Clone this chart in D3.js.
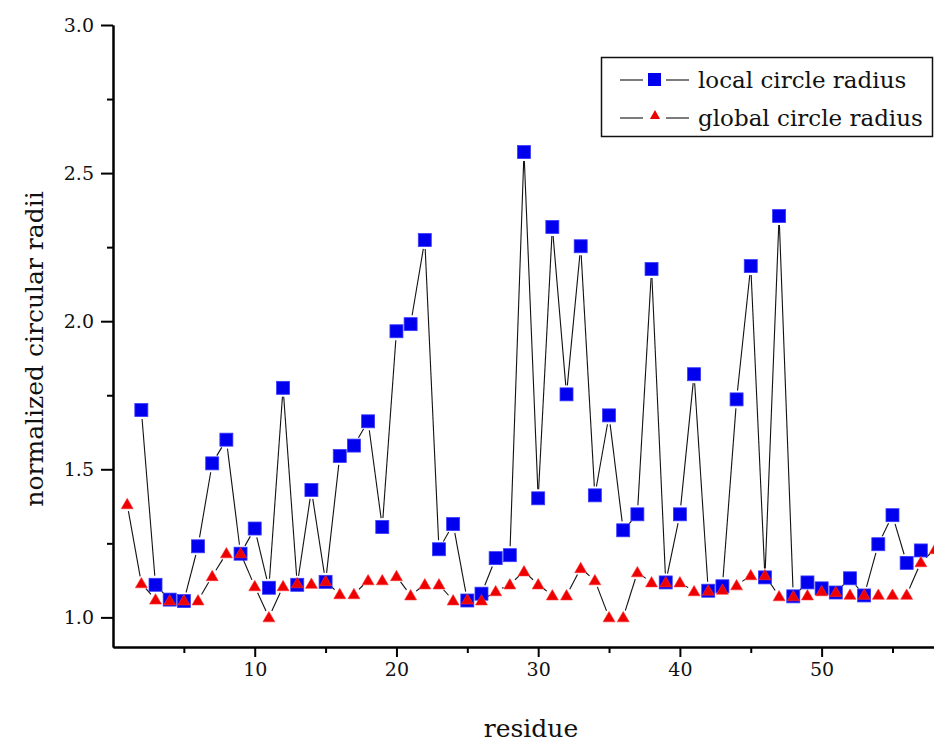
<!DOCTYPE html>
<html>
<head>
<meta charset="utf-8">
<script src="https://cdn.jsdelivr.net/npm/d3@7"></script>
<style>
  body { margin: 0; background: #fff; }
  svg { display: block; }
  text { font-family: "DejaVu Serif", "Liberation Serif", serif; fill: #111; }
</style>
</head>
<body>
<div id="chart"></div>
<script>
// residue numbers 1..58, local radius missing for residue 1 and 58
var residues = d3.range(1, 59);

var localRadius = [null, 1.70, 1.11, 1.06, 1.055, 1.24, 1.52, 1.60, 1.215, 1.30,
  1.10, 1.775, 1.11, 1.43, 1.12, 1.545, 1.58, 1.662, 1.305, 1.966,
  1.99, 2.274, 1.23, 1.315, 1.057, 1.08, 1.20, 1.21, 2.571, 1.402,
  2.318, 1.753, 2.253, 1.412, 1.682, 1.294, 1.348, 2.176, 1.118, 1.348,
  1.821, 1.09, 1.105, 1.736, 2.186, 1.135, 2.355, 1.071, 1.118, 1.098,
  1.084, 1.132, 1.074, 1.247, 1.345, 1.184, 1.226, null];

var globalRadius = [1.382, 1.115, 1.06, 1.057, 1.057, 1.057, 1.139, 1.216, 1.216, 1.105,
  1.00, 1.105, 1.115, 1.113, 1.122, 1.078, 1.078, 1.125, 1.125, 1.139,
  1.074, 1.111, 1.111, 1.057, 1.06, 1.057, 1.088, 1.111, 1.155, 1.111,
  1.074, 1.074, 1.166, 1.125, 1.00, 1.00, 1.152, 1.118, 1.118, 1.118,
  1.088, 1.09, 1.093, 1.108, 1.142, 1.142, 1.071, 1.071, 1.074, 1.088,
  1.085, 1.076, 1.076, 1.076, 1.076, 1.076, 1.186, 1.23];

var xTicks = [10, 20, 30, 40, 50];
var xMinor = [5, 15, 25, 35, 45, 55];
var yTicks = [1.0, 1.5, 2.0, 2.5, 3.0];
var yMinor = [1.25, 1.75, 2.25, 2.75];
var seriesNames = ["local circle radius", "global circle radius"];

var width = 934, height = 742;

var svg = d3.select("#chart").append("svg")
  .attr("width", width)
  .attr("height", height);

var x = d3.scaleLinear().domain([0, 58]).range([113, 935]);
var y = d3.scaleLinear().domain([0.9, 3.0]).range([647, 25]);

svg.append("defs").append("clipPath").attr("id", "plotclip")
  .append("rect").attr("x", 113).attr("y", 0).attr("width", width - 113).attr("height", 647);

// axes
svg.append("g").attr("transform", "translate(0,647)")
  .call(d3.axisBottom(x).tickValues(xTicks).tickSize(10).tickPadding(6).tickSizeOuter(0));
svg.append("g").attr("transform", "translate(0,647)")
  .call(d3.axisBottom(x).tickValues(xMinor).tickSize(6).tickFormat("").tickSizeOuter(0));
svg.append("g").attr("transform", "translate(113,0)")
  .call(d3.axisLeft(y).tickValues(yTicks).tickSize(12).tickPadding(7)
    .tickFormat(d3.format(".1f")).tickSizeOuter(0));
svg.append("g").attr("transform", "translate(113,0)")
  .call(d3.axisLeft(y).tickValues(yMinor).tickSize(6).tickFormat("").tickSizeOuter(0));

svg.selectAll(".domain").attr("stroke", "#000").attr("stroke-width", 2);
svg.selectAll(".tick line").attr("stroke", "#000").attr("stroke-width", 2);
svg.selectAll(".tick text").attr("font-size", 19)
  .style("font-family", '"DejaVu Serif", serif').attr("fill", "#111");

svg.append("text")
  .attr("x", 531).attr("y", 737)
  .attr("text-anchor", "middle").attr("font-size", 25)
  .text("residue");
svg.append("text")
  .attr("transform", "translate(43,349) rotate(-90)")
  .attr("text-anchor", "middle").attr("font-size", 25)
  .text("normalized circular radii");

var plot = svg.append("g").attr("clip-path", "url(#plotclip)");

// connecting lines leave a small gap around each marker
function drawSeries(values, gap) {
  var pts = [];
  residues.forEach(function (r, i) {
    if (values[i] != null) pts.push([x(r), y(values[i])]);
  });
  var segs = [];
  for (var i = 1; i < pts.length; i++) {
    var a = pts[i - 1], b = pts[i];
    var dx = b[0] - a[0], dy = b[1] - a[1];
    var len = Math.sqrt(dx * dx + dy * dy);
    if (len <= 2 * gap + 1) continue;
    var ux = dx / len, uy = dy / len;
    segs.push([a[0] + ux * gap, a[1] + uy * gap, b[0] - ux * gap, b[1] - uy * gap]);
  }
  plot.append("g").selectAll("line").data(segs).enter().append("line")
    .attr("x1", function (d) { return d[0]; })
    .attr("y1", function (d) { return d[1]; })
    .attr("x2", function (d) { return d[2]; })
    .attr("y2", function (d) { return d[3]; })
    .attr("stroke", "#111").attr("stroke-width", 1.1);
}

drawSeries(localRadius, 9);
drawSeries(globalRadius, 7);

var localPts = residues.map(function (r, i) { return { r: r, v: localRadius[i] }; })
  .filter(function (d) { return d.v != null; });
var globalPts = residues.map(function (r, i) { return { r: r, v: globalRadius[i] }; });

plot.append("g").selectAll("rect").data(localPts).enter().append("rect")
  .attr("x", function (d) { return x(d.r) - 6.5; })
  .attr("y", function (d) { return y(d.v) - 6.5; })
  .attr("width", 13).attr("height", 13)
  .attr("fill", "#0000ee").attr("stroke", "#3a3aff").attr("stroke-width", 0.8);

var tri = d3.symbol().type(d3.symbolTriangle).size(62);
plot.append("g").selectAll("path").data(globalPts).enter().append("path")
  .attr("d", tri)
  .attr("transform", function (d) { return "translate(" + x(d.r) + "," + (y(d.v) + 1) + ")"; })
  .attr("fill", "#ee0000").attr("stroke", "#ff3030").attr("stroke-width", 0.6);

// legend
var lg = svg.append("g");
lg.append("rect").attr("x", 601.5).attr("y", 57.5).attr("width", 331).attr("height", 79)
  .attr("fill", "#fff").attr("stroke", "#111").attr("stroke-width", 1.5);
var rows = [80, 118];
rows.forEach(function (ry, i) {
  lg.append("line").attr("x1", 620).attr("x2", 643).attr("y1", ry).attr("y2", ry)
    .attr("stroke", "#111").attr("stroke-width", 1.1);
  lg.append("line").attr("x1", 666).attr("x2", 689).attr("y1", ry).attr("y2", ry)
    .attr("stroke", "#111").attr("stroke-width", 1.1);
  lg.append("text").attr("x", 698).attr("y", ry + 8).attr("font-size", 23).text(seriesNames[i]);
});
lg.append("rect").attr("x", 648).attr("y", 73).attr("width", 13).attr("height", 13)
  .attr("fill", "#0000ee");
lg.append("path").attr("d", d3.symbol().type(d3.symbolTriangle).size(45))
  .attr("transform", "translate(655,116)").attr("fill", "#ee0000");
</script>
</body>
</html>
